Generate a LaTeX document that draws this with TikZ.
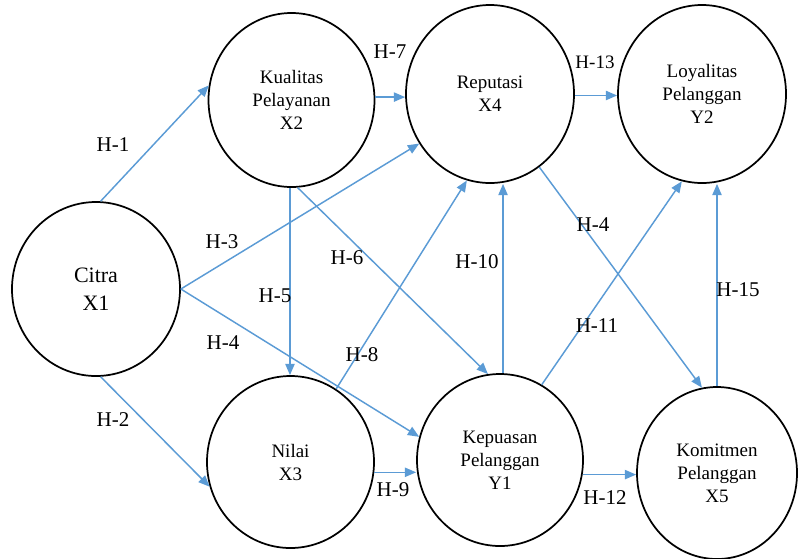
\documentclass[tikz,border=0pt]{standalone}
\usepackage{fontspec}
\setmainfont{Liberation Serif}
\usetikzlibrary{shapes.geometric,arrows.meta}
\definecolor{arrblue}{RGB}{91,155,213}
\begin{document}
\begin{tikzpicture}[x=0.75pt,y=-0.75pt,
 latent/.style={ellipse,draw=black,line width=1.3pt,inner sep=0pt,align=center,font=\fontsize{14.25}{17.25}\selectfont},
 arr/.style={draw=arrblue,line width=1.1pt,-{Triangle[length=8.5pt,width=7pt]}},
 hlab/.style={font=\fontsize{15.75}{18}\selectfont,inner sep=0pt}]
\useasboundingbox (0,0) rectangle (798,558);
% constructs
\node[latent,minimum width=126pt,minimum height=130.5pt,font=\fontsize{16.5}{21}\selectfont] (c1) at (96,289) {Citra\\X1};
\node[latent,minimum width=124.5pt,minimum height=130.5pt] (k) at (291.5,100) {Kualitas\\Pelayanan\\X2};
\node[latent,minimum width=126pt,minimum height=133.5pt] (r) at (490,94) {Reputasi\\X4};
\node[latent,minimum width=126pt,minimum height=133.5pt] (l) at (702,94) {Loyalitas\\Pelanggan\\Y2};
\node[latent,minimum width=125.25pt,minimum height=129pt] (n) at (290.5,462) {Nilai\\X3};
\node[latent,minimum width=124.5pt,minimum height=129pt] (p) at (500,460) {Kepuasan\\Pelanggan\\Y1};
\node[latent,minimum width=120pt,minimum height=129pt] (m) at (717,473) {Komitmen\\Pelanggan\\X5};
% connectors
\draw[arr] (c1.87) -- (k.170);
\draw[arr] (c1.0) -- (r.-145);
\draw[arr] (c1.0) -- (p.164);
\draw[arr] (c1.-87) -- (n.-163);
\draw[arr] (k.-91) -- (k.-91 |- n.north);
\draw[arr] (k.-86) -- (p.98);
\draw[arr] (k.2) -- (k.2 -| r.west);
\draw[arr] (n.58) -- (r.-105);
\draw[arr] (n.-7) -- (n.-7 -| p.west);
\draw[arr] (p.88) -- (p.88 |- r.south);
\draw[arr] (p.61) -- (l.-103);
\draw[arr] (r.-56) -- (m.100);
\draw[arr] (p.-10) -- (p.-10 -| m.west);
\draw[arr] (r.-1) -- (r.-1 -| l.west);
\draw[arr] (m.90) -- (m.90 |- l.south);
% labels
\node[hlab] (h1) at (113,145) {H-1};
\node[hlab] (h2) at (113,420) {H-2};
\node[hlab] (h3) at (222,242) {H-3};
\node[hlab] (h4a) at (223,343) {H-4};
\node[hlab] (h5) at (275,296) {H-5};
\node[hlab] (h6) at (347,258) {H-6};
\node[hlab] (h7) at (390,52) {H-7};
\node[hlab] (h8) at (362,355) {H-8};
\node[hlab] (h9) at (393,490) {H-9};
\node[hlab] (h10) at (477,262) {H-10};
\node[hlab,font=\fontsize{14.25}{17}\selectfont] (h13) at (595,62) {H-13};
\node[hlab] (h4b) at (593,225) {H-4};
\node[hlab] (h11) at (597,326) {H-11};
\node[hlab] (h15) at (738,290) {H-15};
\node[hlab] (h12) at (605,498) {H-12};
\end{tikzpicture}
\end{document}
